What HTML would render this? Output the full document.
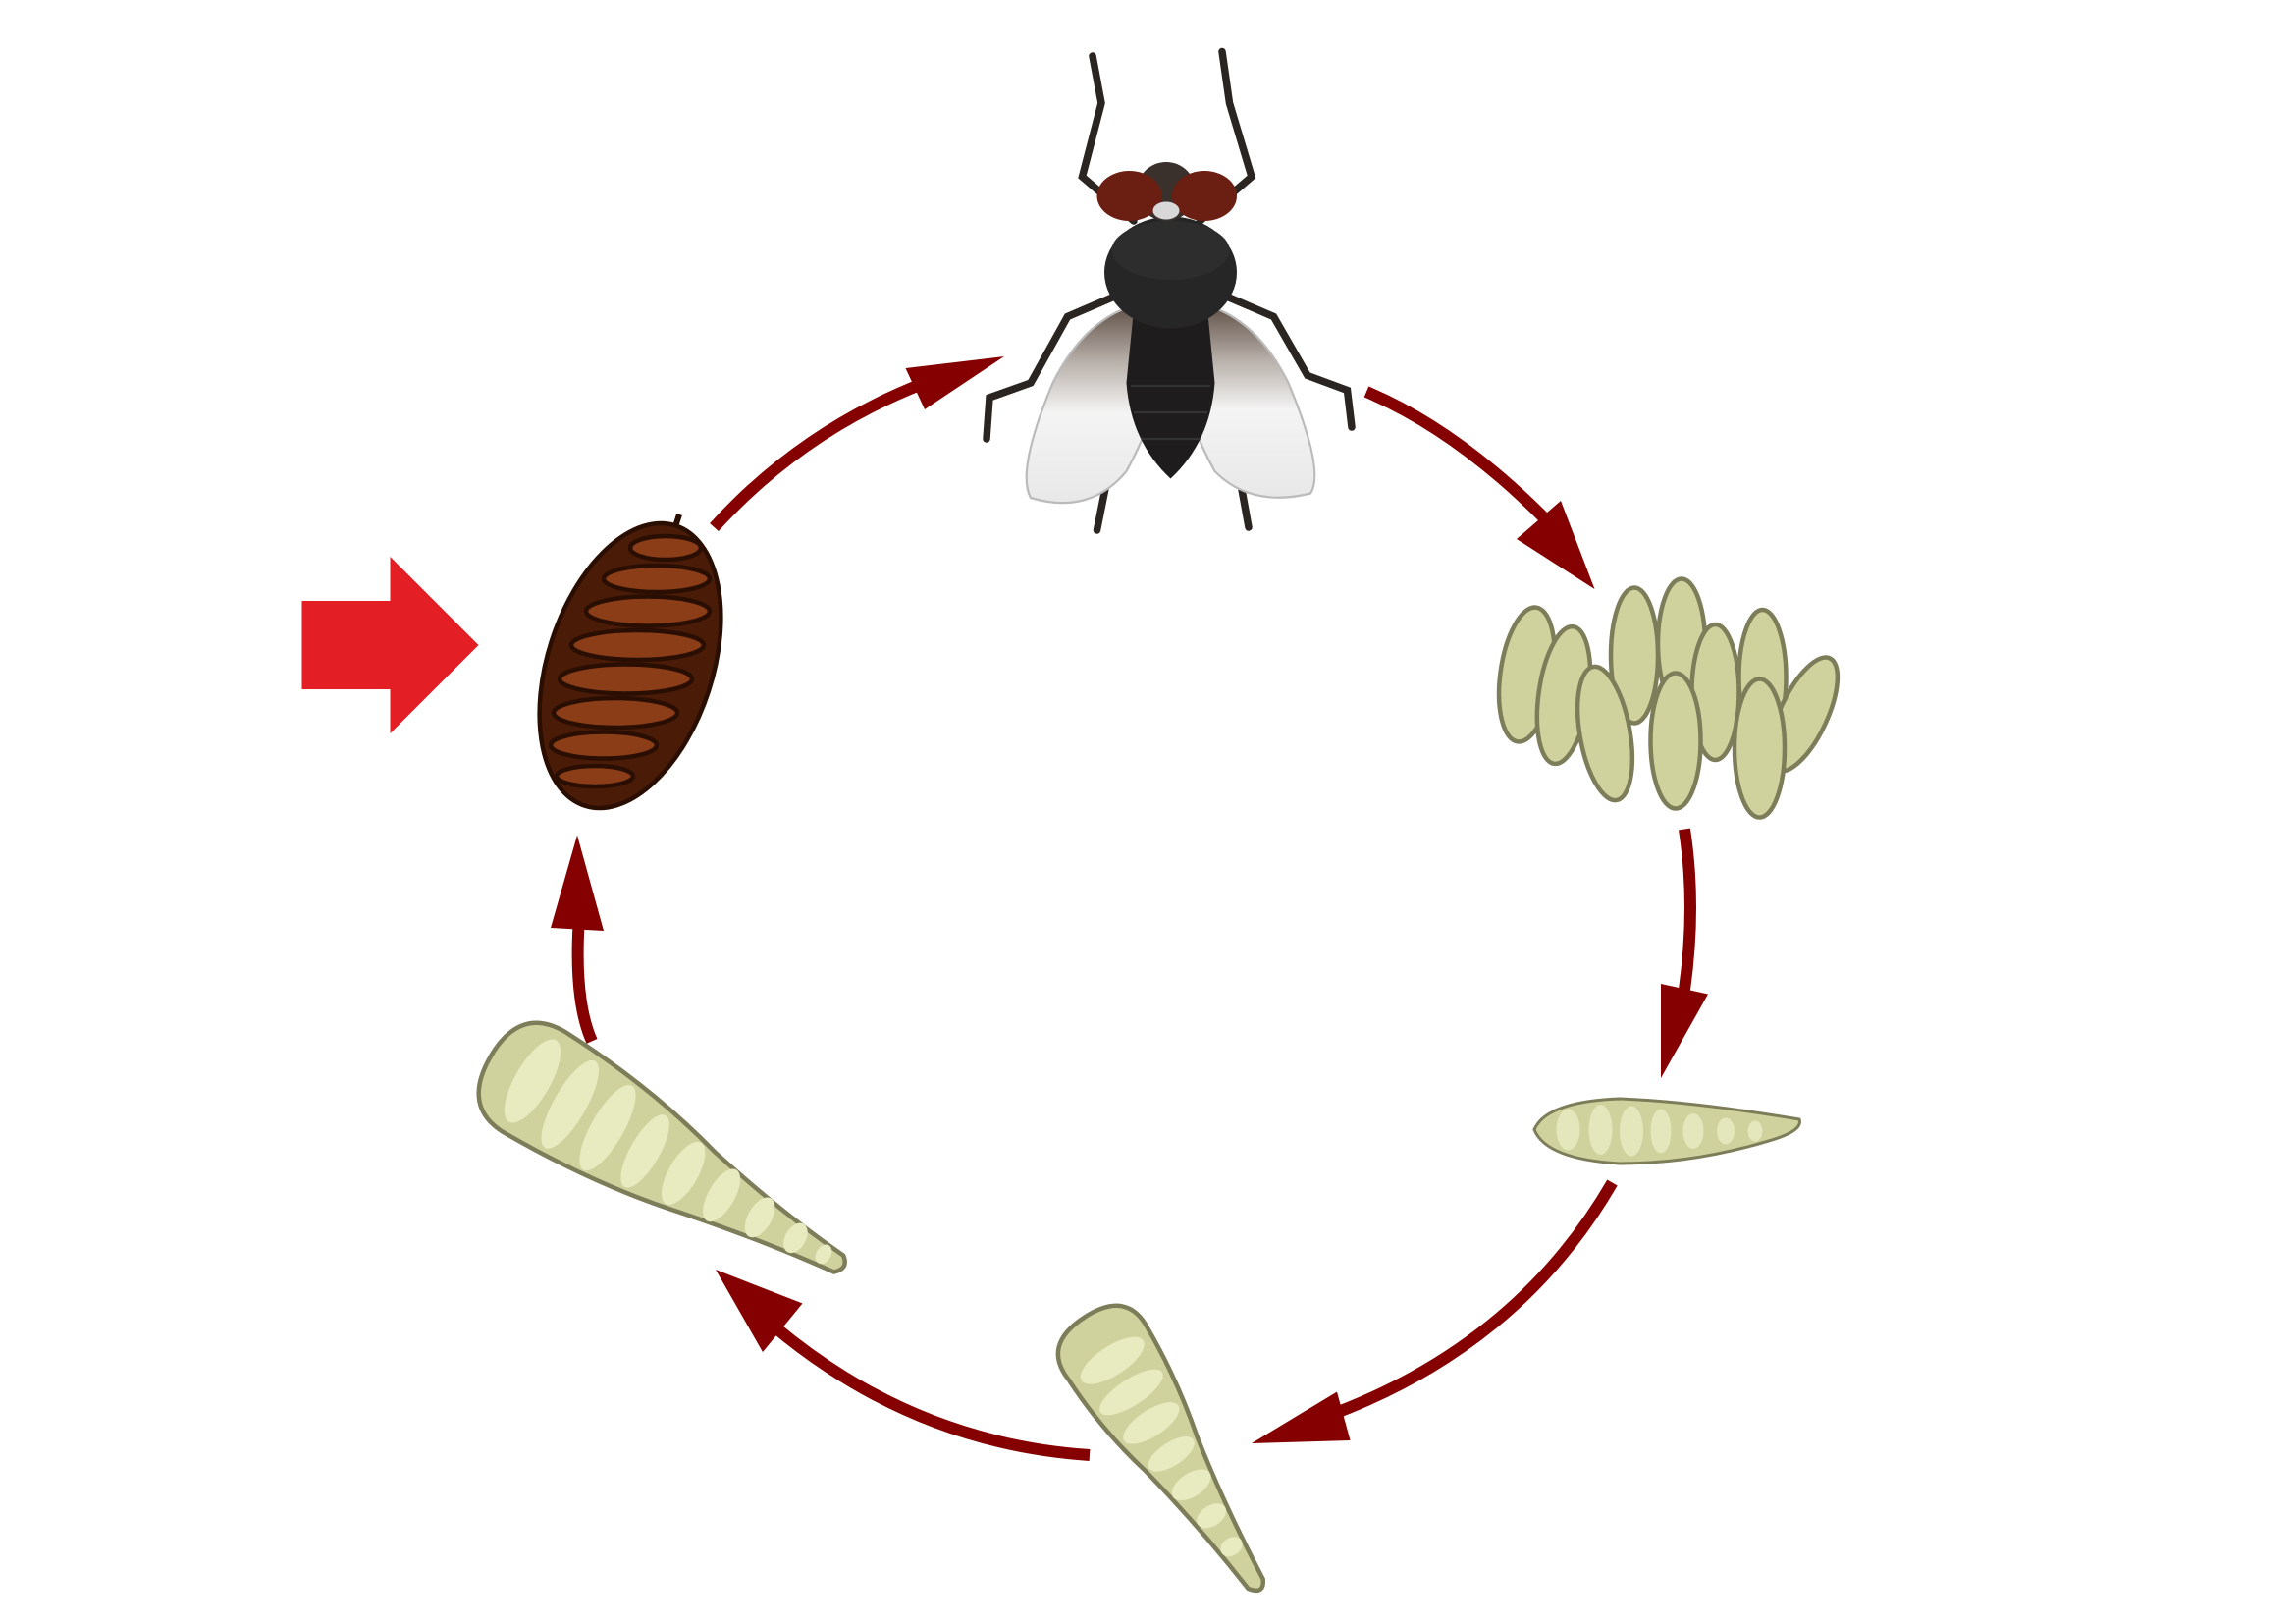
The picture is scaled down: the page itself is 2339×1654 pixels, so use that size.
<!DOCTYPE html>
<html><head><style>html,body{margin:0;padding:0;background:#fff}svg{display:block}</style></head>
<body>
<svg width="2339" height="1654" viewBox="0 0 1559.33 1102.67" xmlns="http://www.w3.org/2000/svg">
<defs>
<linearGradient id="wing" x1="0" y1="0" x2="0" y2="1"><stop offset="0" stop-color="#5a4a40"/><stop offset="0.3" stop-color="#b8b0aa"/><stop offset="0.55" stop-color="#f4f4f4"/><stop offset="1" stop-color="#e8e8e8"/></linearGradient>
</defs>
<rect width="1559.33" height="1102.67" fill="#fff"/>
<polygon points="205,408 265,408 265,378 325,438 265,498 265,468 205,468" fill="#e31e24"/>
<g fill="none" stroke="#850000" stroke-width="8">
<path d="M485,358 Q545,292 628,260"/>
<path d="M928,266 Q990,292 1052,355"/>
<path d="M1144,563 Q1152,615 1144,672"/>
<path d="M1095,803 Q1030,915 900,962"/>
<path d="M740,988 Q620,980 525,900"/>
<path d="M402,707 Q390,680 393,628"/>
</g>
<g fill="#850000">
<polygon points="615,250 682,242 628,278"/>
<polygon points="1030,366 1060,340 1083,400"/>
<polygon points="1128,668 1160,675 1128,732"/>
<polygon points="850,980 908,945 917,978"/>
<polygon points="486,862 545,885 518,918"/>
<polygon points="374,630 392,567 410,632"/>
</g>
<!-- pupa -->
<g transform="rotate(18 428 452)">
<ellipse cx="428" cy="452" rx="56" ry="100" fill="#4a1c08" stroke="#2a0e02" stroke-width="3"/>
<g stroke="#2a0e02" stroke-width="3" fill="#8a3d17" transform="rotate(-18 428 452)">
<ellipse cx="452" cy="372" rx="24" ry="8"/>
<ellipse cx="446" cy="393" rx="36" ry="9"/>
<ellipse cx="440" cy="415" rx="42" ry="10"/>
<ellipse cx="433" cy="438" rx="45" ry="10"/>
<ellipse cx="425" cy="461" rx="45" ry="10"/>
<ellipse cx="418" cy="484" rx="42" ry="10"/>
<ellipse cx="410" cy="506" rx="36" ry="9"/>
<ellipse cx="404" cy="527" rx="26" ry="7"/>
</g>
<line x1="428" y1="352" x2="428" y2="344" stroke="#2a0e02" stroke-width="4"/>
</g>
<!-- fly -->
<g stroke="#2b2522" stroke-width="5" fill="none" stroke-linecap="round">
<path d="M770,150 L735,120 L748,70 L742,38"/>
<path d="M815,150 L850,120 L835,70 L830,35"/>
<path d="M760,200 L725,215 L700,260 L672,270 L670,298"/>
<path d="M830,200 L865,215 L888,255 L915,265 L918,290"/>
<path d="M772,300 L752,325 L745,360"/>
<path d="M818,300 L842,325 L848,358"/>
</g>
<path d="M782,205 Q740,210 715,260 Q690,320 700,338 Q740,350 765,320 Q790,275 790,230 Z" fill="url(#wing)" stroke="#bbb" stroke-width="1.5"/>
<path d="M808,205 Q850,210 875,260 Q900,320 890,335 Q850,345 825,320 Q800,275 800,230 Z" fill="url(#wing)" stroke="#bbb" stroke-width="1.5"/>
<path d="M770,210 Q795,200 820,210 L825,260 Q822,300 795,325 Q768,300 765,260 Z" fill="#1e1c1c"/>
<g stroke="#333" stroke-width="1.5"><line x1="768" y1="262" x2="822" y2="262"/><line x1="770" y1="280" x2="820" y2="280"/><line x1="775" y1="298" x2="815" y2="298"/></g>
<ellipse cx="795" cy="185" rx="45" ry="38" fill="#272626"/>
<ellipse cx="795" cy="170" rx="40" ry="20" fill="#2e2d2d"/>
<ellipse cx="792" cy="130" rx="20" ry="20" fill="#3a302c"/>
<ellipse cx="767" cy="133" rx="22" ry="17" fill="#6b1e12"/>
<ellipse cx="818" cy="133" rx="22" ry="17" fill="#6b1e12"/>
<ellipse cx="792" cy="143" rx="9" ry="6" fill="#d8d8d8"/>
<!-- eggs -->
<g fill="#d0d29e" stroke="#7d7d5a" stroke-width="3">
<ellipse cx="1037" cy="458" rx="18" ry="46" transform="rotate(8 1037 458)"/>
<ellipse cx="1062" cy="472" rx="17" ry="47" transform="rotate(8 1062 472)"/>
<ellipse cx="1110" cy="445" rx="16" ry="46"/>
<ellipse cx="1142" cy="437" rx="16" ry="44"/>
<ellipse cx="1197" cy="460" rx="16" ry="46"/>
<ellipse cx="1225" cy="485" rx="16" ry="42" transform="rotate(25 1225 485)"/>
<ellipse cx="1090" cy="498" rx="17" ry="46" transform="rotate(-10 1090 498)"/>
<ellipse cx="1165" cy="470" rx="16" ry="46"/>
<ellipse cx="1138" cy="503" rx="17" ry="46"/>
<ellipse cx="1195" cy="508" rx="17" ry="47"/>
</g>
<!-- small larva -->
<g fill="#d0d29e" stroke="#7d7d5a" stroke-width="2">
<path d="M1042,767 Q1050,748 1100,746 Q1150,748 1222,760 Q1225,768 1200,775 Q1150,790 1100,790 Q1050,787 1042,767 Z"/>
<g fill="#e4e6bb" stroke="none"><ellipse cx="1065" cy="767" rx="8" ry="14"/><ellipse cx="1087" cy="767" rx="8" ry="17"/><ellipse cx="1108" cy="768" rx="8" ry="17"/><ellipse cx="1128" cy="768" rx="7" ry="15"/><ellipse cx="1150" cy="768" rx="7" ry="12"/><ellipse cx="1172" cy="768" rx="6" ry="9"/><ellipse cx="1192" cy="768" rx="5" ry="7"/></g>
</g>
<!-- middle larva -->
<g transform="rotate(57 792 980)" fill="#d0d29e" stroke="#7d7d5a" stroke-width="3">
<path d="M690,980 Q690,945 720,948 Q760,950 800,960 Q850,970 905,975 Q915,980 905,987 Q850,992 800,1002 Q760,1012 720,1012 Q690,1015 690,980 Z"/>
<g fill="#e8eac0" stroke="none"><ellipse cx="725" cy="980" rx="10" ry="25"/><ellipse cx="750" cy="981" rx="9" ry="25"/><ellipse cx="775" cy="981" rx="9" ry="22"/><ellipse cx="800" cy="981" rx="8" ry="18"/><ellipse cx="825" cy="981" rx="8" ry="15"/><ellipse cx="850" cy="981" rx="7" ry="11"/><ellipse cx="875" cy="981" rx="6" ry="8"/></g>
</g>
<!-- big larva -->
<g transform="rotate(30 450 785)" fill="#d0d29e" stroke="#7d7d5a" stroke-width="3">
<path d="M315,785 Q315,745 350,745 Q420,748 480,765 Q540,778 590,782 Q598,788 590,795 Q540,800 480,812 Q420,825 350,825 Q315,825 315,785 Z"/>
<g fill="#e8eac0" stroke="none"><ellipse cx="348" cy="785" rx="12" ry="32"/><ellipse cx="378" cy="786" rx="11" ry="34"/><ellipse cx="408" cy="787" rx="11" ry="33"/><ellipse cx="438" cy="788" rx="10" ry="28"/><ellipse cx="468" cy="788" rx="10" ry="24"/><ellipse cx="498" cy="788" rx="9" ry="20"/><ellipse cx="528" cy="788" rx="8" ry="15"/><ellipse cx="556" cy="788" rx="7" ry="11"/><ellipse cx="578" cy="788" rx="5" ry="7"/></g>
</g>
</svg>
</body></html>
